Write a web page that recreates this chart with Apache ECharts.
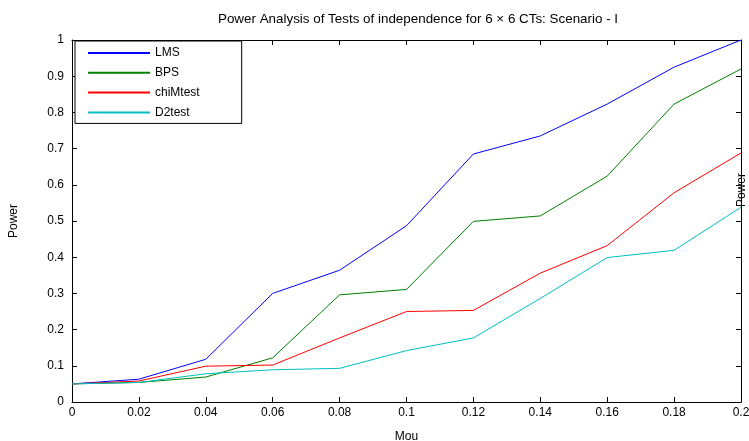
<!DOCTYPE html>
<html>
<head>
<meta charset="utf-8">
<script src="https://cdn.jsdelivr.net/npm/echarts@6/dist/echarts.min.js"></script>
<style>
html,body{margin:0;padding:0;background:#fff;}
#c{width:749px;height:441px;}
</style>
</head>
<body>
<div id="c"></div>
<script>
const mou = [0, 0.02, 0.04, 0.06, 0.08, 0.1, 0.12, 0.14, 0.16, 0.18, 0.2];
const seriesNames = ['LMS', 'BPS', 'chiMtest', 'D2test'];
const lms      = [0.05, 0.063, 0.118, 0.300, 0.364, 0.487, 0.685, 0.735, 0.823, 0.925, 1.0];
const bps      = [0.05, 0.054, 0.069, 0.122, 0.296, 0.311, 0.499, 0.514, 0.624, 0.823, 0.920];
const chiMtest = [0.05, 0.058, 0.099, 0.102, 0.177, 0.250, 0.253, 0.356, 0.432, 0.578, 0.688];
const d2test   = [0.05, 0.054, 0.078, 0.089, 0.093, 0.142, 0.177, 0.286, 0.399, 0.419, 0.538];
const colors = ['#0000ff', '#008000', '#ff0000', '#00bfbf'];
const titleText = 'Power Analysis of Tests of independence for 6 \u00d7 6 CTs: Scenario - I';

const values = [lms, bps, chiMtest, d2test];
const font = 'Liberation Sans, Arial, sans-serif';
const fmt = v => String(+v.toFixed(2));

const chart = echarts.init(document.getElementById('c'), null, {renderer: 'canvas'});
const axisCommon = {
  type: 'value',
  axisLine: {show: true, onZero: false, lineStyle: {color: '#000', width: 1}},
  axisTick: {show: true, inside: true, length: 5, lineStyle: {color: '#000'}},
  splitLine: {show: false}
};
chart.setOption({
  animation: false,
  backgroundColor: '#fff',
  title: {
    text: titleText, left: 413, top: 8, textAlign: 'center',
    textStyle: {fontFamily: font, fontSize: 13.4, fontWeight: 'normal', color: '#000'}
  },
  grid: {left: 72, right: 8, top: 40, bottom: 39, containLabel: false, outerBoundsMode: 'none'},
  legend: {
    orient: 'vertical', left: 75, top: 41,
    padding: [6, 42, 5, 12], itemGap: 7.8, itemWidth: 62, itemHeight: 14,
    borderColor: '#000', borderWidth: 1, backgroundColor: '#fff',
    itemStyle: {opacity: 0},
    textStyle: {fontFamily: font, fontSize: 12, color: '#000'},
    data: seriesNames
  },
  xAxis: [
    Object.assign({}, axisCommon, {
      min: 0, max: 0.2, interval: 0.02, position: 'bottom',
      name: 'Mou', nameLocation: 'middle', nameGap: 29,
      nameTextStyle: {fontFamily: font, fontSize: 12, color: '#000'},
      axisLabel: {formatter: fmt, margin: 5, fontFamily: font, fontSize: 12, color: '#000'}
    }),
    Object.assign({}, axisCommon, {
      min: 0, max: 0.2, interval: 0.02, position: 'top',
      axisLabel: {show: false}
    })
  ],
  yAxis: [
    Object.assign({}, axisCommon, {
      min: 0, max: 1, interval: 0.1, position: 'left',
      name: 'Power', nameLocation: 'middle', nameGap: 52, nameRotate: 90,
      nameTextStyle: {fontFamily: font, fontSize: 12, color: '#000'},
      axisLabel: {formatter: fmt, margin: 8, fontFamily: font, fontSize: 12, color: '#000'}
    }),
    Object.assign({}, axisCommon, {
      min: 0, max: 1, interval: 0.1, position: 'right',
      axisLabel: {show: false}
    })
  ],
  graphic: [{
    type: 'text', x: 742, y: 190, rotation: Math.PI / 2, z: 100,
    style: {text: 'Power', fontFamily: font, fontSize: 12, fill: '#000', align: 'center', verticalAlign: 'middle'}
  }],
  series: seriesNames.map((n, i) => ({
    name: n, type: 'line', xAxisIndex: 0, yAxisIndex: 0,
    data: mou.map((x, j) => [x, values[i][j]]),
    symbol: 'none', showSymbol: false,
    lineStyle: {color: colors[i], width: 1},
    itemStyle: {color: colors[i]},
    z: 2 + i
  }))
});
</script>
</body>
</html>
